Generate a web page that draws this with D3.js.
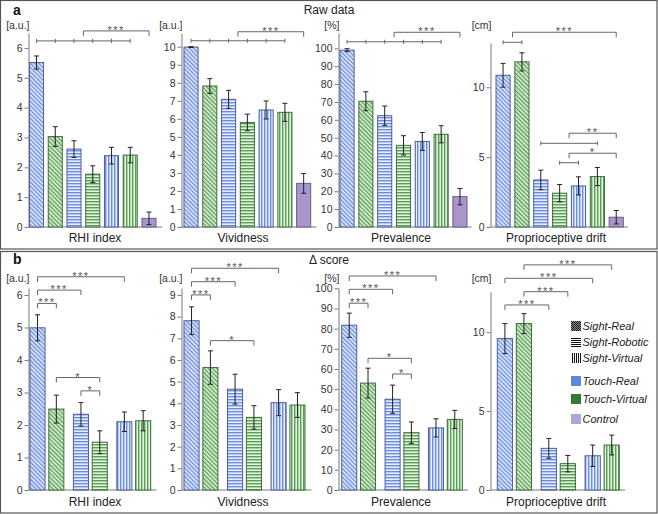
<!DOCTYPE html>
<html><head><meta charset="utf-8">
<script src="https://cdn.jsdelivr.net/npm/d3@7"></script>
<style>body{margin:0;background:#fff} text{font-family:"Liberation Sans",Arial,sans-serif}</style>
</head><body><svg id="c" width="658" height="514"></svg>
<script>
// ---------- data ----------
const measures = ["RHI index","Vividness","Prevalence","Proprioceptive drift"];
const units = ["[a.u.]","[a.u.]","[%]","[cm]"];
const sightOf = ["Real","Real","Robotic","Robotic","Virtual","Virtual","Control"];
const touchOf = ["Real","Virtual","Real","Virtual","Real","Virtual","Control"];

const rawRHI = [5.51,3.03,2.61,1.77,2.39,2.41,0.29];
const rawRHIErr = [0.22,0.33,0.28,0.28,0.28,0.26,0.21];
const rawViv = [9.98,7.82,7.08,5.8,6.49,6.36,2.42];
const rawVivErr = [0.02,0.41,0.5,0.46,0.5,0.5,0.55];
const rawPrev = [99.0,70.4,62.3,45.7,47.9,51.9,17.0];
const rawPrevErr = [0.8,5.3,5.4,5.4,5.0,4.8,4.6];
const rawDrift = [10.86,11.82,3.37,2.42,2.94,3.61,0.7];
const rawDriftErr = [0.85,0.65,0.7,0.62,0.65,0.65,0.48];

const dRHI = [4.99,2.49,2.33,1.47,2.1,2.13];
const dRHIErr = [0.4,0.43,0.36,0.35,0.3,0.31];
const dViv = [7.81,5.65,4.65,3.35,4.03,3.92];
const dVivErr = [0.64,0.77,0.69,0.54,0.6,0.57];
const dPrev = [81.7,53.0,45.0,28.4,30.8,35.0];
const dPrevErr = [6.0,7.4,7.0,5.3,4.5,4.5];
const dDrift = [9.6,10.55,2.64,1.67,2.17,2.85];
const dDriftErr = [0.95,0.63,0.63,0.52,0.68,0.63];

const ticksRHI = [0,1,2,3,4,5,6];
const ticksVivRaw = [0,1,2,3,4,5,6,7,8,9,10];
const ticksVivDelta = [0,1,2,3,4,5,6,7,8,9];
const ticksPrev = [0,10,20,30,40,50,60,70,80,90,100];
const ticksDrift = [0,5,10];

// significance annotations (bar indices, level in data units)
const sigRawRHI = [{k:"g",a:0,b:5,m:[0,1,2,3,4,5],lv:6.235},{k:"b",a:2.5,b:6,lv:6.57,t:"***"}];
const sigRawViv = [{k:"g",a:0,b:5,m:[0,1,2,3,4,5],lv:10.33},{k:"b",a:2.5,b:6,lv:10.83,t:"***"}];
const sigRawPrev = [{k:"g",a:0,b:5,m:[0,1,2,3,4,5],lv:103.7},{k:"b",a:2.5,b:6,lv:109,t:"***"}];
const sigRawDrift = [{k:"g",a:0,b:1,m:[0,1],lv:13.22},{k:"b",a:0.5,b:6,lv:13.94,t:"***"},
  {k:"b",a:3.5,b:6,lv:6.71,t:"**"},{k:"g",a:2,b:5,m:[2,5],lv:5.99},
  {k:"b",a:3.5,b:6,lv:5.28,t:"*"},{k:"g",a:3,b:4,m:[3,4],lv:4.6}];
const sigDRHI = [{k:"b",a:0,b:4,lv:6.56,t:"***"},{k:"b",a:0,b:2,lv:6.15,t:"***"},{k:"b",a:0,b:1,lv:5.74,t:"***"},
  {k:"b",a:1,b:3,lv:3.46,t:"*"},{k:"b",a:2,b:3,lv:3.05,t:"*"}];
const sigDViv = [{k:"b",a:0,b:4,lv:10.23,t:"***"},{k:"b",a:0,b:2,lv:9.61,t:"***"},{k:"b",a:0,b:1,lv:9.0,t:"***"},
  {k:"b",a:1,b:3,lv:6.89,t:"*"}];
const sigDPrev = [{k:"b",a:0,b:4,lv:106.1,t:"***"},{k:"b",a:0,b:2,lv:99.5,t:"***"},{k:"b",a:0,b:1,lv:92.6,t:"***"},
  {k:"b",a:1,b:3,lv:65.3,t:"*"},{k:"b",a:2,b:3,lv:57.5,t:"*"}];
const sigDDrift = [{k:"b",a:1,b:5,lv:14.27,t:"***"},{k:"b",a:0,b:4,lv:13.42,t:"***"},{k:"b",a:1,b:3,lv:12.57,t:"***"},
  {k:"b",a:0,b:2,lv:11.73,t:"***"}];

const legendSight = ["Sight-Real","Sight-Robotic","Sight-Virtual"];
const legendTouch = ["Touch-Real","Touch-Virtual","Control"];

// ---------- layout ----------
const svg = d3.select("#c");
const defs = svg.append("defs");
const COL = {
  Real:{bg:"#e9eefc",fg:"#6a8de2",stroke:"#4f5f96"},
  Virtual:{bg:"#e6f3e2",fg:"#56a052",stroke:"#3e6e3e"}
};
function pat(id,kind,bg,fg,size,sw){
  const p = defs.append("pattern").attr("id",id).attr("patternUnits","userSpaceOnUse")
    .attr("width",size).attr("height",size);
  if(kind==="diag") p.attr("patternTransform","rotate(-45)");
  p.append("rect").attr("width",size).attr("height",size).attr("fill",bg);
  if(kind==="h") p.append("rect").attr("x",0).attr("y",0).attr("width",size).attr("height",sw).attr("fill",fg);
  else p.append("rect").attr("x",0).attr("y",0).attr("width",sw).attr("height",size).attr("fill",fg);
}
const kindOf = {Real:"diag",Robotic:"h",Virtual:"v"};
["Real","Robotic","Virtual"].forEach(s=>["Real","Virtual"].forEach(t=>{
  pat(`p-${s}-${t}`,kindOf[s],COL[t].bg,COL[t].fg,3,1.4);
}));
// legend patterns
pat("lg-h","h","#fff","#111",2,1);
pat("lg-v","v","#fff","#111",2,1);
const ck = defs.append("pattern").attr("id","lg-x").attr("patternUnits","userSpaceOnUse").attr("width",2).attr("height",2);
ck.append("rect").attr("width",2).attr("height",2).attr("fill","#8a8a8a");
ck.append("rect").attr("width",1).attr("height",1).attr("fill","#111");
ck.append("rect").attr("x",1).attr("y",1).attr("width",1).attr("height",1).attr("fill","#222");

// frames
svg.append("rect").attr("x",0.5).attr("y",0.5).attr("width",656.5).attr("height",248.5).attr("fill","none").attr("stroke","#555").attr("stroke-width",1.2);
svg.append("rect").attr("x",0.5).attr("y",251.5).attr("width",656.5).attr("height",261.5).attr("fill","none").attr("stroke","#555").attr("stroke-width",1.2);
// titles
svg.append("text").attr("x",13).attr("y",15).attr("font-size",14).attr("font-weight","bold").attr("fill","#111").text("a");
svg.append("text").attr("x",13).attr("y",264).attr("font-size",14).attr("font-weight","bold").attr("fill","#111").text("b");
svg.append("text").attr("x",329).attr("y",14).attr("text-anchor","middle").attr("font-size",12).attr("fill","#222").text("Raw data");
svg.append("text").attr("x",329).attr("y",264).attr("text-anchor","middle").attr("font-size",12).attr("fill","#222").text("Δ score");

const labelX = [95,243,401,556];
const LA = {y0:227, axisX:[28.5,181.5,338.5,490.5], axisEnd:[162,316.5,471.5,628],
  barL:[29.5,184,340,496], barR:[156,310.7,467,623.3], yTop:[33,33,33,43],
  yMax:[6.5,10.76,108.6,13.17], unitY:28.5, labelY:242};
const LB = {y0:490, axisX:[28.5,181.5,338.5,490.5], axisEnd:[156.5,311.5,468,625],
  barL:[30,184,341.7,497.3], barR:[150.7,305,462.3,619.3], yTop:[288,288,288,291.7],
  yMax:[6.215,9.32,100.15,12.57], unitY:281.5, labelY:506};

function drawPlot(L, i, vals, errs, ticks, sig, grouped){
  const g = svg.append("g");
  const y = d3.scaleLinear().domain([0,L.yMax[i]]).range([L.y0,L.yTop[i]]);
  let xLeft, bw;
  if(!grouped){
    const xb = d3.scaleBand().domain(d3.range(vals.length)).range([L.barL[i],L.barR[i]]).paddingInner(0.25).paddingOuter(0);
    xLeft = k=>xb(k); bw = xb.bandwidth();
  } else {
    const xg = d3.scaleBand().domain([0,1,2]).range([L.barL[i],L.barR[i]]).paddingInner(0.22).paddingOuter(0);
    const xi = d3.scaleBand().domain([0,1]).range([0,xg.bandwidth()]).paddingInner(0.2).paddingOuter(0);
    xLeft = k=>xg(Math.floor(k/2))+xi(k%2); bw = xi.bandwidth();
  }
  const cx = k=>xLeft(k)+bw/2;
  const cxf = f=>{const a=Math.floor(f), b=Math.ceil(f); return cx(a)+(f-a)*(cx(b)-cx(a));};
  // axis
  const ax = g.append("g").attr("transform",`translate(${L.axisX[i]},0)`)
    .call(d3.axisLeft(y).tickValues(ticks).tickFormat(d3.format("d")).tickSize(4).tickPadding(2).tickSizeOuter(0));
  ax.select(".domain").attr("stroke","#7a7a7a");
  ax.selectAll(".tick line").attr("stroke","#7a7a7a");
  ax.selectAll(".tick text").attr("fill","#333").attr("font-size",10.5).attr("font-family","Liberation Sans, Arial, sans-serif");
  g.append("line").attr("x1",L.axisX[i]).attr("x2",L.axisEnd[i]).attr("y1",L.y0).attr("y2",L.y0).attr("stroke","#7a7a7a");
  g.append("text").attr("x",L.axisX[i]+1).attr("y",L.unitY).attr("text-anchor","end").attr("font-size",10.5).attr("fill","#333").text(units[i]);
  g.append("text").attr("x",labelX[i]).attr("y",L.labelY).attr("text-anchor","middle").attr("font-size",12).attr("fill","#222").text(measures[i]);
  // bars
  vals.forEach((v,k)=>{
    const s = sightOf[k], t = touchOf[k];
    const fill = t==="Control" ? "#a896ca" : `url(#p-${s}-${t})`;
    const stroke = t==="Control" ? "#6a5a8f" : COL[t].stroke;
    g.append("rect").attr("x",xLeft(k)).attr("y",y(v)).attr("width",bw).attr("height",L.y0-y(v))
      .attr("fill",fill).attr("stroke",stroke).attr("stroke-width",1);
  });
  // error bars
  vals.forEach((v,k)=>{
    const e = errs[k], x = cx(k);
    const eg = g.append("g").attr("stroke","#222").attr("stroke-width",1);
    eg.append("line").attr("x1",x).attr("x2",x).attr("y1",y(v-e)).attr("y2",y(v+e));
    eg.append("line").attr("x1",x-2.5).attr("x2",x+2.5).attr("y1",y(v-e)).attr("y2",y(v-e));
    eg.append("line").attr("x1",x-2.5).attr("x2",x+2.5).attr("y1",y(v+e)).attr("y2",y(v+e));
  });
  // significance
  sig.forEach(s=>{
    const yy = y(s.lv), xa = cxf(s.a), xb = cxf(s.b);
    const sg = g.append("g").attr("stroke","#666").attr("stroke-width",1).attr("fill","none");
    sg.append("line").attr("x1",xa).attr("x2",xb).attr("y1",yy).attr("y2",yy);
    if(s.k==="b"){
      sg.append("line").attr("x1",xa).attr("x2",xa).attr("y1",yy).attr("y2",yy+5);
      sg.append("line").attr("x1",xb).attr("x2",xb).attr("y1",yy).attr("y2",yy+5);
      g.append("text").attr("x",(xa+xb)/2).attr("y",yy+3).attr("text-anchor","middle")
        .attr("font-size",11).attr("letter-spacing",1.5).attr("fill","#555").text(s.t);
    } else {
      s.m.forEach(m=>{
        sg.append("line").attr("x1",cx(m)).attr("x2",cx(m)).attr("y1",yy-2).attr("y2",yy+2);
      });
    }
  });
}

drawPlot(LA,0,rawRHI,rawRHIErr,ticksRHI,sigRawRHI,false);
drawPlot(LA,1,rawViv,rawVivErr,ticksVivRaw,sigRawViv,false);
drawPlot(LA,2,rawPrev,rawPrevErr,ticksPrev,sigRawPrev,false);
drawPlot(LA,3,rawDrift,rawDriftErr,ticksDrift,sigRawDrift,false);
drawPlot(LB,0,dRHI,dRHIErr,ticksRHI,sigDRHI,true);
drawPlot(LB,1,dViv,dVivErr,ticksVivDelta,sigDViv,true);
drawPlot(LB,2,dPrev,dPrevErr,ticksPrev,sigDPrev,true);
drawPlot(LB,3,dDrift,dDriftErr,ticksDrift,sigDDrift,true);

// legend
const lg = svg.append("g");
const legFill = ["url(#lg-x)","url(#lg-h)","url(#lg-v)","#5b87e0","#2f7d33","#b3a3d6"];
const legY = [326,342.3,357.7,381,399,419];
legendSight.concat(legendTouch).forEach((name,k)=>{
  lg.append("rect").attr("x",571).attr("y",Math.round(legY[k]-5)).attr("width",10).attr("height",10).attr("fill",legFill[k]);
  lg.append("text").attr("x",582.5).attr("y",legY[k]+4).attr("font-size",11).attr("font-style","italic").attr("fill","#222").text(name);
});
</script></body></html>
